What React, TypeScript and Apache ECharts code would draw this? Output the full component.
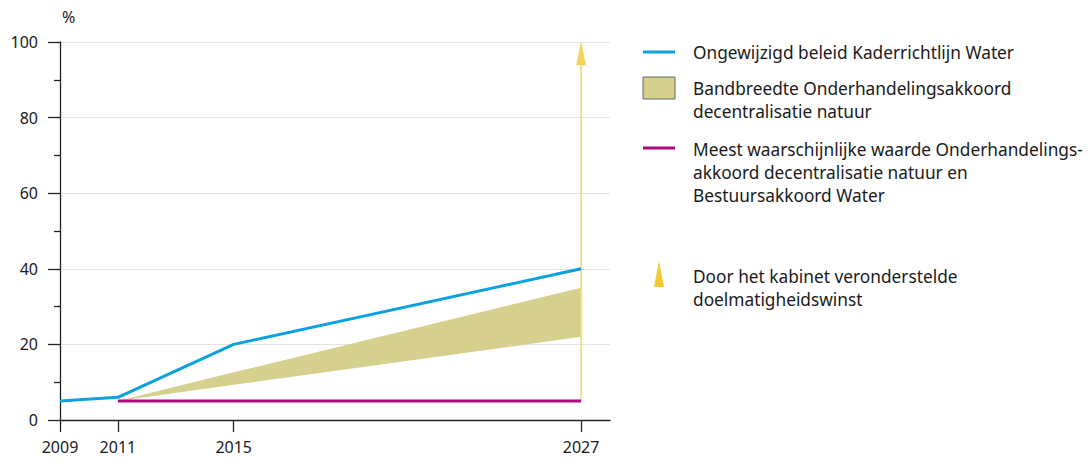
import React, { useEffect, useRef } from "react";
import * as echarts from "echarts";

const xTickYears = [2009, 2011, 2015, 2027];
const yTicks = [0, 20, 40, 60, 80, 100];

const blueLine: [number, number][] = [
  [2009, 5],
  [2011, 6],
  [2015, 20],
  [2027, 40],
];
const bandLower: [number, number][] = [
  [2011, 5],
  [2015, 9.3],
  [2027, 22],
];
const bandUpper: [number, number][] = [
  [2011, 5],
  [2015, 12.6],
  [2027, 35],
];
const magentaLine: [number, number][] = [
  [2011, 5],
  [2027, 5],
];
const arrowLine: [number, number][] = [
  [2027, 5],
  [2027, 94],
];
const arrowHead: [number, number][] = [[2027, 97]];

const legendTexts = {
  blue: ["Ongewijzigd beleid Kaderrichtlijn Water"],
  band: ["Bandbreedte Onderhandelingsakkoord", "decentralisatie natuur"],
  magenta: [
    "Meest waarschijnlijke waarde Onderhandelings-",
    "akkoord decentralisatie natuur en",
    "Bestuursakkoord Water",
  ],
  arrow: ["Door het kabinet veronderstelde", "doelmatigheidswinst"],
};

const BLUE = "#0aa1df";
const MAGENTA = "#b1087c";
const BAND = "#d6d08e";
const ARROW_LINE = "#f5da74";
const ARROW_HEAD = "#f3c92f";
const FONT = "Noto Sans";

export default function App() {
  const ref = useRef<HTMLDivElement>(null);
  useEffect(() => {
    if (!ref.current) return;
    const chart = echarts.init(ref.current, undefined, { renderer: "svg" });
    const bandData = bandUpper.map((p, i) => [p[0], bandLower[i][1], p[1]]);
    const textStyle = { fontFamily: FONT, fontSize: 17.3, fill: "#1a1a1a" };
    const lh = 23;
    const mkLines = (lines: string[], x: number, y0: number) =>
      lines.map((t, i) => ({
        type: "text",
        x,
        y: y0 + i * lh,
        style: { ...textStyle, text: t, textVerticalAlign: "middle" },
      }));
    chart.setOption({
      animation: false,
      grid: { left: 60, right: 478, top: 42, bottom: 42 },
      xAxis: {
        type: "value",
        min: 2009,
        max: 2028,
        splitLine: { show: false },
        axisLine: { lineStyle: { color: "#222", width: 1.3 } },
        axisTick: {
          show: true,
          length: 12,
          customValues: xTickYears,
          lineStyle: { color: "#222", width: 1.3 },
        },
        axisLabel: {
          customValues: xTickYears,
          formatter: (v: number) => String(v),
          margin: 19,
          fontFamily: FONT,
          fontSize: 16,
          color: "#1a1a1a",
        },
      },
      yAxis: {
        type: "value",
        min: 0,
        max: 100,
        interval: 20,
        name: "%",
        nameLocation: "end",
        nameGap: 17,
        nameTextStyle: { fontFamily: FONT, fontSize: 16, color: "#1a1a1a", align: "left", padding: [0, 0, 0, 2] },
        axisLine: { show: true, lineStyle: { color: "#222", width: 1.3 } },
        axisTick: { show: true, length: 12, lineStyle: { color: "#222", width: 1.3 } },
        minorTick: { show: true, splitNumber: 2, length: 6, lineStyle: { color: "#222", width: 1.3 } },
        splitLine: { show: true, lineStyle: { color: "#e3e3e3", width: 1 } },
        axisLabel: {
          margin: 22,
          fontFamily: FONT,
          fontSize: 16,
          color: "#1a1a1a",
          customValues: yTicks,
        },
      },
      series: [
        {
          type: "custom",
          data: bandData,
          z: 1,
          renderItem: (params: any, api: any) => {
            if (params.dataIndex !== 0) return null;
            const top = bandData.map((d) => api.coord([d[0], d[2]]));
            const bottom = bandData
              .slice()
              .reverse()
              .map((d) => api.coord([d[0], d[1]]));
            return {
              type: "polygon",
              shape: { points: [...top, ...bottom] },
              style: { fill: BAND, stroke: "none" },
            };
          },
        },
        {
          type: "line",
          data: arrowLine,
          symbol: "none",
          lineStyle: { color: ARROW_LINE, width: 1.6 },
          z: 2,
        },
        {
          type: "scatter",
          data: arrowHead,
          symbol: "triangle",
          symbolSize: [10, 24],
          itemStyle: { color: ARROW_HEAD },
          z: 3,
        },
        {
          type: "line",
          data: magentaLine,
          symbol: "none",
          lineStyle: { color: MAGENTA, width: 3 },
          z: 4,
        },
        {
          type: "line",
          data: blueLine,
          symbol: "none",
          lineStyle: { color: BLUE, width: 3 },
          z: 5,
        },
      ],
      graphic: [
        { type: "line", shape: { x1: 643, y1: 52, x2: 675, y2: 52 }, style: { stroke: BLUE, lineWidth: 3 } },
        ...mkLines(legendTexts.blue, 693, 52),
        {
          type: "rect",
          shape: { x: 643, y: 77, width: 32, height: 22 },
          style: { fill: BAND, stroke: "#666", lineWidth: 1 },
        },
        ...mkLines(legendTexts.band, 693, 88),
        { type: "line", shape: { x1: 643, y1: 148, x2: 675, y2: 148 }, style: { stroke: MAGENTA, lineWidth: 3 } },
        ...mkLines(legendTexts.magenta, 693, 149),
        {
          type: "polygon",
          shape: { points: [[659, 261], [654, 287], [664, 287]] },
          style: { fill: ARROW_HEAD },
        },
        ...mkLines(legendTexts.arrow, 693, 276),
      ],
    });
    return () => chart.dispose();
  }, []);
  return (
    <div
      ref={ref}
      style={{ position: "absolute", left: 0, top: 0, width: 1088, height: 462 }}
    />
  );
}
